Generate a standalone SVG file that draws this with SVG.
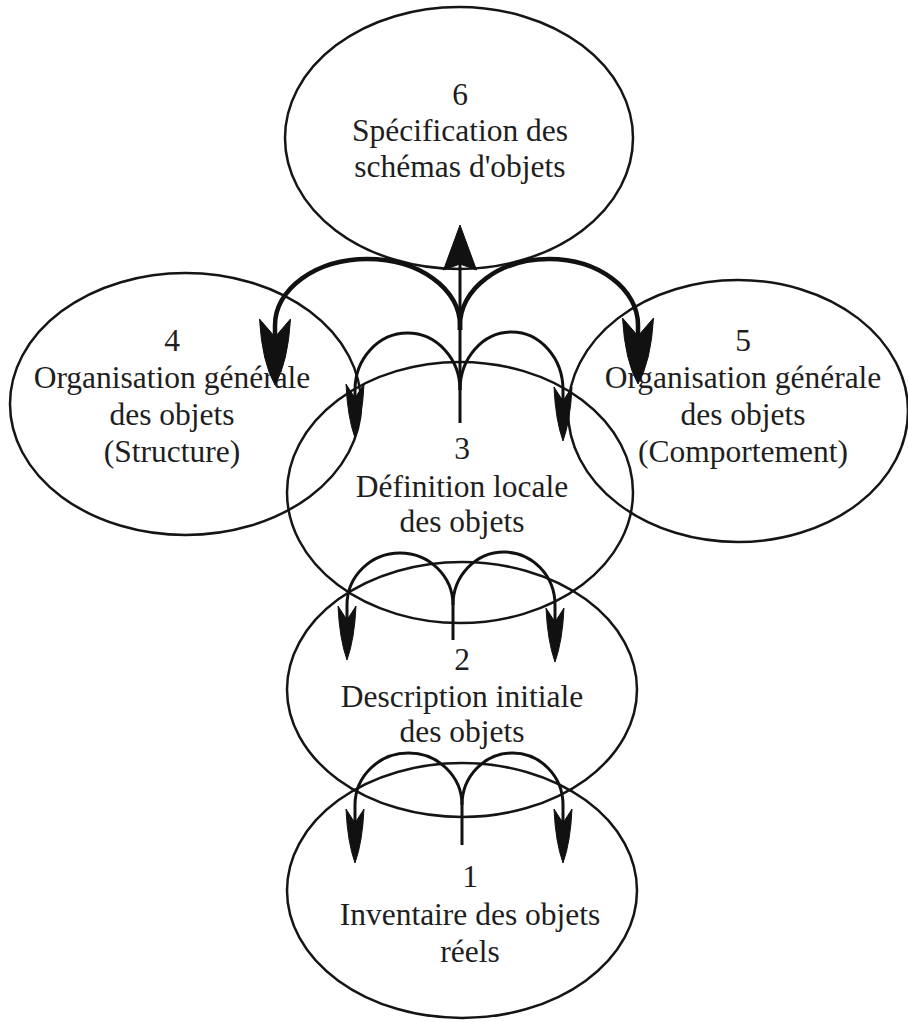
<svg xmlns="http://www.w3.org/2000/svg" width="908" height="1022" viewBox="0 0 908 1022">
  <style>
    .node ellipse { fill: none; stroke: #151515; stroke-width: 2.5; }
    .node text { font-family: "Liberation Serif", "Times New Roman", serif; font-size: 31.5px; fill: #1e1e1e; text-anchor: middle; }
    .link { fill: none; stroke: #111; stroke-linecap: butt; }
    .thin { stroke-width: 3; }
    .thick { stroke-width: 4.5; }
    .head { fill: #111; stroke: #111; stroke-width: 1; stroke-linejoin: miter; }
  </style>
  <defs>
    <!-- barbed heads: origin sits at the notch, tip lies ahead on +x -->
    <marker id="head-big" markerUnits="userSpaceOnUse" orient="auto" refX="0" refY="0" markerWidth="1" markerHeight="1" overflow="visible">
      <path class="head" d="M48,0 Q25,-13 -18,-15.5 L0,0 L-18,15.5 Q25,13 48,0 Z"/>
    </marker>
    <marker id="head-small" markerUnits="userSpaceOnUse" orient="auto" refX="0" refY="0" markerWidth="1" markerHeight="1" overflow="visible">
      <path class="head" d="M40,0 Q19,-7.5 -14,-9 L0,0 L-14,9 Q19,7.5 40,0 Z"/>
    </marker>
    <marker id="head-up" markerUnits="userSpaceOnUse" orient="auto" refX="0" refY="0" markerWidth="1" markerHeight="1" overflow="visible">
      <path class="head" d="M39,0 L-6,-16.5 L0,0 L-6,16.5 Z"/>
    </marker>
  </defs>

  <rect width="908" height="1022" fill="#ffffff"/>

  <g id="node-6" class="node">
    <ellipse cx="459" cy="138" rx="174" ry="131"/>
    <text x="460" y="105">6</text>
    <text x="460" y="141">Spécification des</text>
    <text x="460" y="177">schémas d'objets</text>
  </g>

  <g id="node-4" class="node">
    <ellipse cx="185.5" cy="404" rx="175.5" ry="131"/>
    <text x="172" y="351">4</text>
    <text x="172" y="388">Organisation générale</text>
    <text x="172" y="425">des objets</text>
    <text x="172" y="462">(Structure)</text>
  </g>

  <g id="node-5" class="node">
    <ellipse cx="738" cy="411" rx="170" ry="131"/>
    <text x="743" y="351">5</text>
    <text x="743" y="388">Organisation générale</text>
    <text x="743" y="425">des objets</text>
    <text x="743" y="462">(Comportement)</text>
  </g>

  <g id="node-3" class="node">
    <ellipse cx="460" cy="492.5" rx="173" ry="130.5"/>
    <text x="462" y="459">3</text>
    <text x="462" y="497">Définition locale</text>
    <text x="462" y="532">des objets</text>
  </g>

  <g id="node-2" class="node">
    <ellipse cx="462" cy="689.5" rx="175" ry="127.5"/>
    <text x="462" y="670">2</text>
    <text x="462" y="707">Description initiale</text>
    <text x="462" y="742">des objets</text>
  </g>

  <g id="node-1" class="node">
    <ellipse cx="462" cy="890.5" rx="175" ry="127.5"/>
    <text x="470" y="887">1</text>
    <text x="470" y="925">Inventaire des objets</text>
    <text x="470" y="962">réels</text>
  </g>

  <g id="connectors">
    <!-- from 3 upward: to 6, 4, 5 and back into 3 -->
    <path class="link thin" d="M460,423 V264" marker-end="url(#head-up)"/>
    <path class="link thick" d="M460,330 V325 A92.5,66 0 0 0 275,325 V337" marker-end="url(#head-big)"/>
    <path class="link thick" d="M460,330 V325 A89,66 0 0 1 638,325 V336" marker-end="url(#head-big)"/>
    <path class="link thin" d="M460,390 A52.5,57 0 0 0 355,390 V398" marker-end="url(#head-small)"/>
    <path class="link thin" d="M460,390 A51.5,58 0 0 1 563,390 V401" marker-end="url(#head-small)"/>

    <!-- from 2 upward into 3 -->
    <path class="link thin" d="M453,605 V640"/>
    <path class="link thin" d="M453,605 A53,52 0 0 0 347,605 V620" marker-end="url(#head-small)"/>
    <path class="link thin" d="M453,605 A51,53 0 0 1 555,605 V622" marker-end="url(#head-small)"/>

    <!-- from 1 upward into 2 -->
    <path class="link thin" d="M462,805 V845"/>
    <path class="link thin" d="M462,805 A53.5,52 0 0 0 355,805 V823" marker-end="url(#head-small)"/>
    <path class="link thin" d="M462,805 A50.5,52 0 0 1 563,805 V823" marker-end="url(#head-small)"/>
  </g>
</svg>
